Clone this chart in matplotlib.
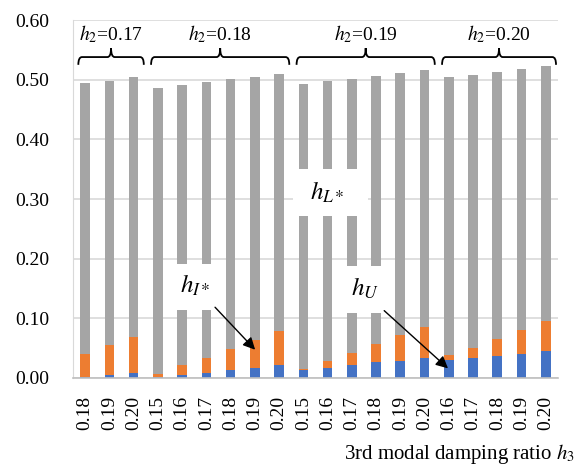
import matplotlib
matplotlib.use("Agg")
import matplotlib.pyplot as plt
from matplotlib.path import Path
from matplotlib.patches import PathPatch, Rectangle
import numpy as np

plt.rcParams['font.family'] = ['Liberation Serif', 'DejaVu Serif']
plt.rcParams['mathtext.fontset'] = 'stix'

# groups of 2nd modal damping ratio h2 and their h3 values
groups = ['0.17', '0.18', '0.19', '0.20']
h3_labels = ['0.18', '0.19', '0.20',
             '0.15', '0.16', '0.17', '0.18', '0.19', '0.20',
             '0.15', '0.16', '0.17', '0.18', '0.19', '0.20',
             '0.16', '0.17', '0.18', '0.19', '0.20']
group_sizes = [3, 6, 6, 5]

# stacked components
h_U = [0.001, 0.005, 0.008, 0.001, 0.005, 0.009, 0.014, 0.017, 0.021,
       0.013, 0.017, 0.021, 0.026, 0.028, 0.033, 0.030, 0.034, 0.037, 0.041, 0.045]
h_I_top = [0.040, 0.056, 0.069, 0.006, 0.021, 0.034, 0.049, 0.064, 0.078,
           0.015, 0.028, 0.042, 0.057, 0.072, 0.085, 0.038, 0.051, 0.065, 0.080, 0.095]
total = [0.494, 0.498, 0.504, 0.486, 0.491, 0.496, 0.501, 0.504, 0.509,
         0.493, 0.498, 0.501, 0.507, 0.511, 0.516, 0.504, 0.508, 0.513, 0.518, 0.523]

h_U = np.array(h_U)
h_I = np.array(h_I_top) - h_U
h_L = np.array(total) - np.array(h_I_top)

fig = plt.figure(figsize=(5.77, 4.67), dpi=100)
ax = fig.add_axes([0.1265, 0.1906, 0.967 - 0.1265, 0.957 - 0.1906])

x = np.arange(len(h3_labels))
w = 0.4
ax.bar(x, h_U, w, color='#4472C4', zorder=2)
ax.bar(x, h_I, w, bottom=h_U, color='#ED7D31', zorder=2)
ax.bar(x, h_L, w, bottom=h_U + h_I, color='#A5A5A5', zorder=2)

ax.set_xlim(-0.5, len(x) - 0.5)
ax.set_ylim(0, 0.6)
ax.set_yticks(np.arange(0, 0.61, 0.1))
ax.set_yticklabels([f'{v:.2f}' for v in np.arange(0, 0.61, 0.1)], fontsize=14)
ax.set_xticks(x)
ax.set_xticklabels(h3_labels, rotation=90, fontsize=14)
ax.tick_params(axis='x', length=0, pad=13)
ax.tick_params(axis='y', length=0, pad=17)
ax.grid(axis='y', color='#D9D9D9', lw=1.2, zorder=0)
ax.set_axisbelow(True)
for s in ['top', 'right']:
    ax.spines[s].set_visible(False)
ax.spines['left'].set_color('#D9D9D9')
ax.spines['bottom'].set_color('#BFBFBF')
ax.spines['bottom'].set_linewidth(1.2)

# braces over groups
start = 0
for g, n in zip(groups, group_sizes):
    x0 = start - 0.28
    x1 = start + n - 1 + 0.42
    xm = (x0 + x1) / 2
    ye, yl, yt = 0.525, 0.538, 0.553
    dx = 0.15
    verts = [(x0, ye), (x0, yl), (x0 + dx, yl),
             (xm - dx, yl), (xm, yl), (xm, yt),
             (xm, yl), (xm + dx, yl),
             (x1 - dx, yl), (x1, yl), (x1, ye)]
    codes = [Path.MOVETO, Path.CURVE3, Path.CURVE3,
             Path.LINETO, Path.CURVE3, Path.CURVE3,
             Path.CURVE3, Path.CURVE3,
             Path.LINETO, Path.CURVE3, Path.CURVE3]
    ax.add_patch(PathPatch(Path(verts, codes), fc='none', ec='black', lw=1.3, zorder=5))
    ax.text(xm, 0.577, f'$h_2$=' + g, ha='center', va='center', fontsize=14, zorder=5)
    start += n

# white label boxes
boxes = [(8.58, 0.272, 3.09, 0.078, r'$h_{L*}$', 9.98, 0.312),
         (3.50, 0.114, 2.07, 0.077, r'$h_{I*}$', 4.54, 0.155),
         (10.45, 0.109, 2.15, 0.079, r'$h_U$', 11.55, 0.150)]
for bx, by, bw, bh, lab, tx, ty in boxes:
    ax.add_patch(Rectangle((bx, by), bw, bh, fc='white', ec='none', zorder=3))
    ax.text(tx, ty, lab, ha='center', va='center', fontsize=18, zorder=4)

ax.annotate('', xy=(7.09, 0.044), xytext=(5.28, 0.122),
            arrowprops=dict(arrowstyle='-|>', color='black', lw=1, mutation_scale=18), zorder=4)
ax.annotate('', xy=(15.05, 0.013), xytext=(12.25, 0.116),
            arrowprops=dict(arrowstyle='-|>', color='black', lw=1, mutation_scale=18), zorder=4)

fig.text(0.997, 0.028, '3rd modal damping ratio $h_3$', ha='right', va='center', fontsize=15)

fig.savefig('out.png', dpi=100)
